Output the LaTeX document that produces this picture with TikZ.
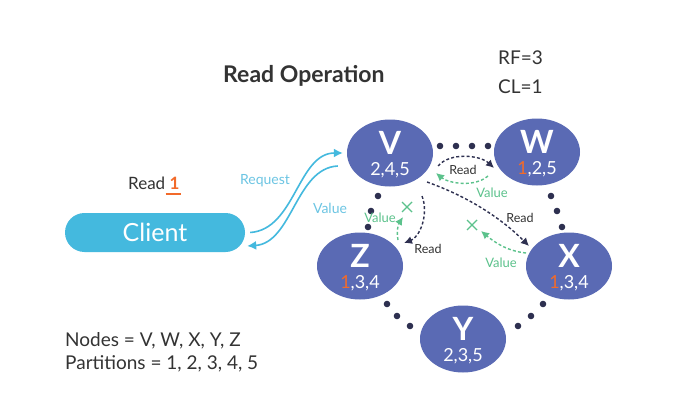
\documentclass[tikz,border=0pt]{standalone}
\usepackage{fontspec}
\setmainfont{Lato}
\usetikzlibrary{shapes.geometric,arrows.meta}
\definecolor{nodeblue}{RGB}{90,106,180}
\definecolor{clientcyan}{RGB}{68,185,222}
\definecolor{reqcyan}{RGB}{108,197,227}
\definecolor{accent}{RGB}{242,106,42}
\definecolor{dotnavy}{RGB}{46,48,80}
\definecolor{valgreen}{RGB}{92,194,140}
\definecolor{txtgray}{RGB}{51,51,51}
\newcommand{\fs}[1]{\fontsize{#1}{#1}\selectfont}
\newcommand{\one}{\textcolor{accent}{1}}
\newcommand{\server}[4]{%
	\node[server] (#1) at (#2) {};
	\node[text=white,inner sep=0pt,font=\fs{32}\bfseries] (#1-name) at ([yshift=10pt]#1.center) {#3};
	\node[text=white,inner sep=0pt,font=\fs{18}] (#1-parts) at ([yshift=-17pt]#1.center) {#4};}
\newcommand{\cross}[1]{\draw[valgreen,line width=1.4pt] ([shift={(-5,-5)}]#1) -- ([shift={(5,5)}]#1) ([shift={(-5,5)}]#1) -- ([shift={(5,-5)}]#1);}

\begin{document}
\begin{tikzpicture}[x=1pt,y=-1pt]
	\tikzset{
		server/.style={ellipse,fill=nodeblue,minimum width=86pt,minimum height=67pt,inner sep=0pt},
		readarr/.style={dotnavy,line width=1.4pt,dash pattern=on 3pt off 2.2pt,-{Latex[length=8pt,width=8pt]}},
		valarr/.style={valgreen,line width=1.4pt,dash pattern=on 3pt off 2.2pt,-{Latex[length=8pt,width=8pt]}},
		cyanarr/.style={clientcyan,line width=1.6pt,-{Latex[length=9pt,width=9pt]}},
		rlbl/.style={txtgray,font=\fs{12.5}},
		vlbl/.style={valgreen,font=\fs{13}},
		plain/.style={txtgray,anchor=base west,inner sep=0pt},
	}
	\fill[white] (0,0) rectangle (688,420);
	% texts
	\node[plain,font=\fs{23}\bfseries] (title) at (223,82) {Read Operation};
	\node[plain,font=\fs{19}] (rf) at (498,65) {RF=3};
	\node[plain,font=\fs{19}] (cl) at (498,93) {CL=1};
	\node[plain,font=\fs{19}] (nodes) at (65,346) {Nodes = V, W, X, Y, Z};
	\node[plain,font=\fs{19}] (parts) at (65,369) {Partitions = 1, 2, 3, 4, 5};
	\node[plain,font=\fs{17}] (readone) at (128,189) {Read \textcolor{accent}{\bfseries 1}};
	\draw[accent,line width=1.5pt] ([shift={(-14,5)}]readone.base east) -- ([shift={(1,5)}]readone.base east);
	% ring of servers
	\server{V}{390,153}{V}{2,4,5}
	\server{W}{537,152}{W}{\one,2,5}
	\server{X}{569,266}{X}{\one,3,4}
	\server{Z}{360,266}{Z}{\one,3,4}
	\server{Y}{463,339}{Y}{2,3,5}
	\foreach \p in {(440,146),(456,146),(472,146),(488,146),(551,196),(557,211),(562,227),(378,196),(371,211),(368,227),(387,304),(397,316),(410,326),(543,304),(531,316),(518,326)}
		\fill[dotnavy] \p circle (3.3pt);
	% client
	\node[rectangle,rounded corners=19.5pt,fill=clientcyan,minimum width=180pt,minimum height=39pt,text=white,font=\fs{25}] (client) at (155,232.5) {Client};
	\draw[cyanarr] ([xshift=5pt]client.east) .. controls +(45,-3) and +(-45,0) .. ([xshift=-4pt]V.west);
	\draw[cyanarr] ([shift={(-9,13)}]V.west) .. controls +(-42,2) and +(45,-3) .. ([shift={(2,13.5)}]client.east);
	\node[reqcyan,font=\fs{14}] (req) at (265,181) {Request};
	\node[reqcyan,font=\fs{14}] (val) at (330,208) {Value};
	% read requests and answers
	\coordinate (xcut) at (472,225);
	\coordinate (zcut) at (407,207);
	\draw[readarr] ([shift={(48,13)}]V.center) .. controls +(12,-14) and +(-14,-13) .. ([shift={(-43,16)}]W.center);
	\draw[valarr] ([shift={(-49,24)}]W.center) .. controls +(-14,12) and +(12,10) .. ([shift={(46,20)}]V.center);
	\draw[readarr] ([shift={(37,29)}]V.center) .. controls +(45,16) and +(-25,-25) .. ([shift={(-40,-20)}]X.center);
	\draw[valarr] ([shift={(-43,-13)}]X.center) .. controls +(-20,-2) and +(12,10) .. ([shift={(9,6)}]xcut);
	\draw[readarr] ([shift={(32,43)}]V.center) .. controls +(7,18) and +(16,-6) .. ([shift={(44,-23)}]Z.center);
	\draw[valarr] ([shift={(38,-26)}]Z.center) .. controls +(-2,-10) and +(-4,6) .. ([shift={(-4,10)}]zcut);
	\cross{xcut}
	\cross{zcut}
	\node[rlbl] (rvw) at (463,170) {Read};
	\node[rlbl] (rvx) at (520,218) {Read};
	\node[rlbl] (rvz) at (428,249) {Read};
	\node[vlbl] (vwv) at (492,193) {Value};
	\node[vlbl] (vxv) at (501,263) {Value};
	\node[vlbl] (vzv) at (380,218) {Value};
\end{tikzpicture}
\end{document}
